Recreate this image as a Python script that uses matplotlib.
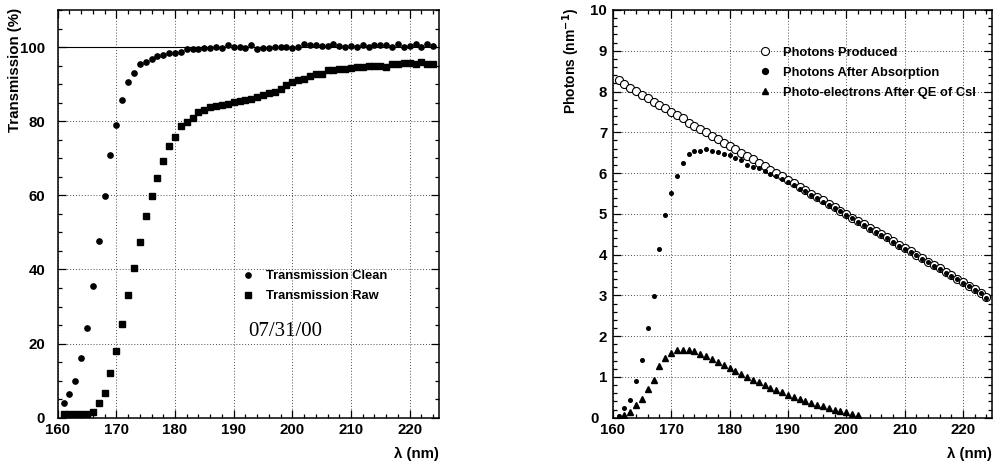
import matplotlib
matplotlib.use('Agg')
import matplotlib.pyplot as plt
import matplotlib.ticker as ticker
import matplotlib.transforms as mtransforms
import numpy as np

plt.rcParams['font.family'] = ['Liberation Sans', 'DejaVu Sans']
plt.rcParams['font.weight'] = 'bold'

# wavelength bins (nm)
wl = np.arange(161, 225)

# left panel: transmission (%)
trans_clean = [3.9, 6.4, 9.9, 16.2, 24.1, 35.5, 47.8, 59.8, 71.0, 79.0,
               85.8, 90.7, 93.1, 95.4, 95.9, 96.8, 97.7, 97.8, 98.3, 98.3,
               98.7, 99.6, 99.6, 99.6, 99.8, 99.8, 99.9, 99.8, 100.5, 100.0,
               100.0, 99.8, 100.5, 99.4, 99.8, 99.8, 99.9, 100.0, 100.1, 99.8,
               100.0, 100.7, 100.6, 100.5, 100.3, 100.4, 100.7, 100.2, 99.9, 100.4,
               100.0, 100.5, 99.9, 100.6, 100.6, 100.5, 99.9, 100.8, 100.0, 100.2,
               100.7, 100.0, 100.8, 100.2]
trans_raw = [0.9, 0.9, 0.9, 0.9, 0.9, 1.6, 3.9, 6.7, 12.0, 18.0,
             25.2, 33.0, 40.4, 47.3, 54.4, 59.9, 64.8, 69.2, 73.4, 75.8,
             78.7, 79.9, 80.8, 82.4, 82.9, 83.7, 84.1, 84.5, 84.7, 85.1,
             85.4, 85.7, 86.0, 86.4, 87.1, 87.7, 87.9, 88.8, 89.7, 90.7,
             91.1, 91.4, 92.3, 92.6, 92.8, 93.9, 93.9, 94.2, 94.2, 94.4,
             94.7, 94.7, 94.9, 94.8, 94.8, 94.7, 95.3, 95.4, 95.8, 95.6,
             95.3, 95.9, 95.4, 95.4]

# right panel: photons per nm
ph_produced = [8.28, 8.18, 8.09, 8.01, 7.92, 7.84, 7.75, 7.67, 7.59, 7.50,
               7.42, 7.34, 7.24, 7.16, 7.08, 7.00, 6.92, 6.83, 6.75, 6.66,
               6.58, 6.50, 6.42, 6.34, 6.25, 6.17, 6.08, 6.00, 5.92, 5.83,
               5.75, 5.67, 5.58, 5.49, 5.41, 5.33, 5.25, 5.17, 5.08, 5.00,
               4.91, 4.83, 4.75, 4.66, 4.58, 4.50, 4.42, 4.33, 4.24, 4.16,
               4.08, 4.00, 3.91, 3.83, 3.74, 3.66, 3.57, 3.49, 3.41, 3.33,
               3.24, 3.16, 3.07, 2.95]
ph_absorbed = [0.05, 0.25, 0.43, 0.90, 1.41, 2.20, 2.98, 4.15, 4.96, 5.52,
               5.93, 6.25, 6.47, 6.55, 6.55, 6.60, 6.54, 6.51, 6.47, 6.45,
               6.37, 6.31, 6.21, 6.16, 6.12, 6.06, 5.98, 5.92, 5.85, 5.77,
               5.70, 5.62, 5.55, 5.46, 5.38, 5.30, 5.22, 5.14, 5.06, 4.96,
               4.89, 4.80, 4.72, 4.64, 4.56, 4.48, 4.40, 4.31, 4.22, 4.14,
               4.06, 3.98, 3.89, 3.81, 3.72, 3.64, 3.55, 3.47, 3.39, 3.31,
               3.22, 3.14, 3.05, 2.94]
wl_pe = np.arange(161, 203)
photo_el = [0.02, 0.06, 0.13, 0.30, 0.46, 0.71, 0.93, 1.27, 1.47, 1.58,
            1.65, 1.67, 1.67, 1.63, 1.57, 1.51, 1.44, 1.37, 1.30, 1.22,
            1.15, 1.07, 1.00, 0.93, 0.87, 0.80, 0.74, 0.68, 0.62, 0.56,
            0.51, 0.46, 0.41, 0.37, 0.32, 0.28, 0.24, 0.20, 0.16, 0.13,
            0.10, 0.07]

W, H = 995, 462
fig = plt.figure(figsize=(W / 100, H / 100), dpi=100)

def px_axes(x0, x1, ytop, ybot):
    return fig.add_axes([x0 / W, 1 - ybot / H, (x1 - x0) / W, (ybot - ytop) / H])

ax1 = px_axes(57.7, 439.0, 10, 417.7)
ax2 = px_axes(612.7, 992.3, 10, 417.7)

def style(ax, ymaj, ymin, ypad):
    ax.set_xlim(160, 225)
    ax.xaxis.set_major_locator(ticker.MultipleLocator(10))
    ax.xaxis.set_minor_locator(ticker.MultipleLocator(2))
    ax.yaxis.set_major_locator(ticker.MultipleLocator(ymaj))
    ax.yaxis.set_minor_locator(ticker.MultipleLocator(ymin))
    ax.tick_params(which='both', direction='in', top=True, right=True,
                   width=0.9, labelsize=10.8)
    ax.tick_params(which='major', length=5.5)
    ax.tick_params(which='minor', length=3)
    ax.tick_params(axis='x', pad=3.5)
    ax.tick_params(axis='y', pad=ypad)
    ax.grid(True, which='major', linestyle=(0, (1, 2)), color='0.3', lw=0.7)
    ax.set_axisbelow(True)
    for s in ax.spines.values():
        s.set_linewidth(1.1)
    ax.text(1.0, -0.088, 'λ (nm)', transform=ax.transAxes, ha='right',
            va='center', fontsize=10.8, fontweight='bold')

# ---- left: transmission
style(ax1, 20, 5, 9)
ax1.set_ylim(0, 110)
ax1.axhline(100, color='black', lw=0.8)
ax1.plot(wl, trans_clean, 'o', color='black', ms=3.8, label='Transmission Clean')
ax1.plot(wl, trans_raw, 's', color='black', ms=4.0, label='Transmission Raw')
ax1.legend(loc='center left', bbox_to_anchor=(0.466, 0.3225), frameon=False,
           borderpad=0, handlelength=1.0, handletextpad=0.9, labelspacing=0.62,
           prop={'size': 9.3, 'weight': 'bold'})
ax1.text(0.499, 0.211, '07/31/00', transform=ax1.transAxes, ha='left',
         va='center', fontsize=15, family='Liberation Serif', fontweight='normal')
fig.text(15 / W, 1 - 8 / H, 'Transmission (%)', rotation=90, ha='center',
         va='top', fontsize=10.8, fontweight='bold')

# ---- right: photons
style(ax2, 1, 0.2, 4)
ax2.set_ylim(0, 10)
ax2.plot(wl, ph_produced, 'o', mfc='white', mec='black', mew=0.8, ms=5.8,
         label='Photons Produced')
ax2.plot(wl, ph_absorbed, 'o', color='black', ms=2.6,
         label='Photons After Absorption')
ax2.plot(wl_pe, photo_el, '^', color='black', ms=4.6,
         label='Photo-electrons After QE of CsI')
leg = ax2.legend(loc='center left', bbox_to_anchor=(0.366, 0.846), frameon=False,
                 borderpad=0, handlelength=1.0, handletextpad=0.9, labelspacing=0.6,
                 prop={'size': 9.3, 'weight': 'bold'})
leg.legend_handles[1].set_markersize(4.2)
fig.text(570.7 / W, 1 - 8 / H, 'Photons (nm$^{\\mathbf{-1}}$)', rotation=90,
         ha='center', va='top', fontsize=10, fontweight='bold')

# nudge the "0" label on the right panel left so it clears "160"
fig.canvas.draw()
shift = mtransforms.ScaledTranslation(-8 / 100, 0, fig.dpi_scale_trans)
for t in ax2.yaxis.get_major_ticks():
    if abs(t.get_loc()) < 1e-9:
        t.label1.set_transform(t.label1.get_transform() + shift)

plt.savefig('out.png', dpi=100)
